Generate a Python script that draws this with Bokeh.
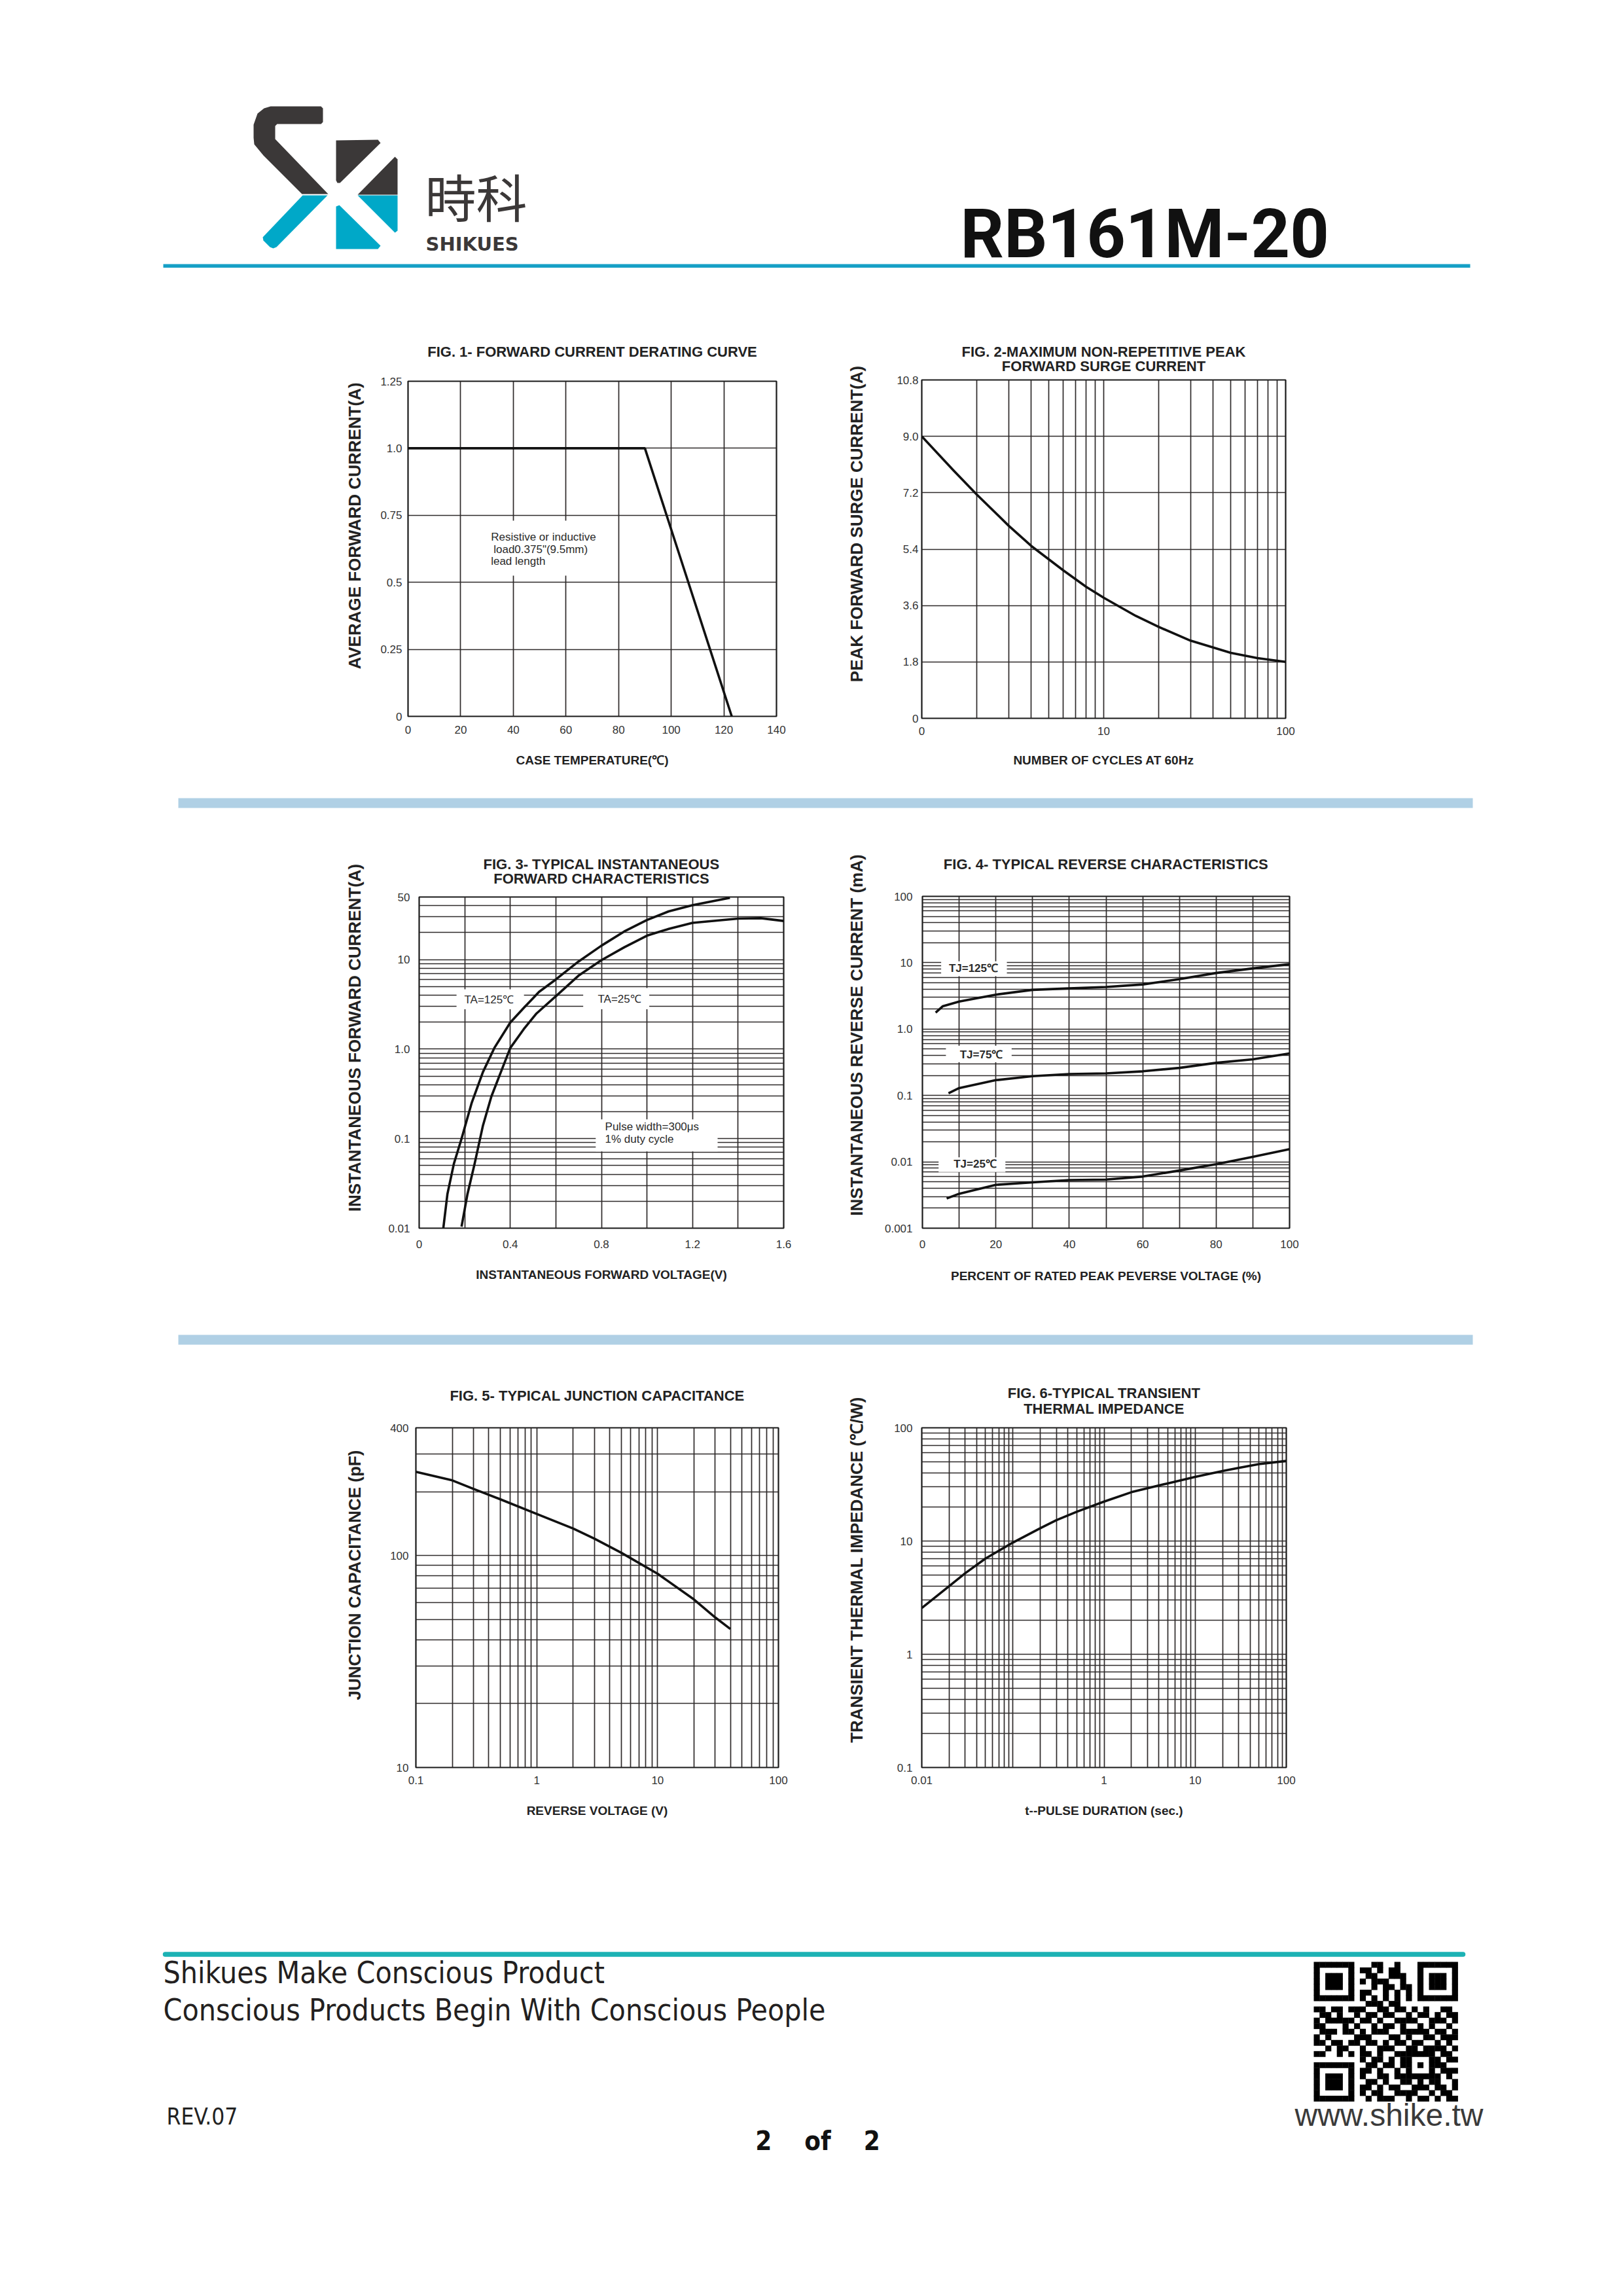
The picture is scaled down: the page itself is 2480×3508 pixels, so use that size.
import math
from bokeh.plotting import figure
from bokeh.layouts import column, row
from bokeh.models import Range1d, FixedTicker
from bokeh.core.properties import value
from bokeh.embed import file_html
from bokeh.resources import INLINE

# ================= data =================
# Fig. 1 forward current derating
f1_temp = [0, 90, 123]
f1_current = [1.0, 1.0, 0.0]
f1_xticks = [0, 20, 40, 60, 80, 100, 120, 140]
f1_xlabels = ["0", "20", "40", "60", "80", "100", "120", "140"]
f1_yticks = [0, 0.25, 0.5, 0.75, 1.0, 1.25]
f1_ylabels = ["0", "0.25", "0.5", "0.75", "1.0", "1.25"]

# Fig. 2 surge current
f2_cycles = [1, 1.5, 2, 3, 4, 6, 8, 10, 15, 20, 30, 50, 70, 100]
f2_current = [9.0, 7.9, 7.15, 6.15, 5.5, 4.72, 4.2, 3.85, 3.27, 2.92, 2.48, 2.09, 1.92, 1.8]
f2_xticks = [1, 10, 100]
f2_xlabels = ["0", "10", "100"]
f2_yticks = [0, 1.8, 3.6, 5.4, 7.2, 9.0, 10.8]
f2_ylabels = ["0", "1.8", "3.6", "5.4", "7.2", "9.0", "10.8"]

# Fig. 3 forward characteristics
f3_volt_125 = [0.106, 0.124, 0.152, 0.186, 0.231, 0.28, 0.33, 0.4, 0.459, 0.526, 0.6, 0.699, 0.8,
               0.9, 1.0, 1.095, 1.2, 1.364]
f3_curr_125 = [0.01, 0.024, 0.052, 0.1, 0.253, 0.555, 1.03, 1.98, 2.88, 4.35, 6.0, 9.5, 14.3,
               20.6, 27.7, 34.5, 40.5, 49.0]
f3_volt_25 = [0.186, 0.212, 0.243, 0.28, 0.317, 0.4, 0.459, 0.515, 0.6, 0.699, 0.8, 0.9, 1.0,
              1.095, 1.2, 1.4, 1.5, 1.6]
f3_curr_25 = [0.0104, 0.024, 0.052, 0.14, 0.296, 1.03, 1.67, 2.5, 3.9, 6.6, 9.86, 13.7, 18.5,
              22.0, 25.7, 28.7, 29.0, 27.0]
f3_xticks = [0, 0.4, 0.8, 1.2, 1.6]
f3_xlabels = ["0", "0.4", "0.8", "1.2", "1.6"]
f3_xminor = [0.2, 0.6, 1.0, 1.4]
f3_yticks = [0.01, 0.1, 1.0, 10, 50]
f3_ylabels = ["0.01", "0.1", "1.0", "10", "50"]

# Fig. 4 reverse characteristics
f4_pct_125 = [3.6, 5.5, 10, 20, 30, 40, 50, 60, 70, 80, 90, 100]
f4_ir_125 = [1.77, 2.2, 2.6, 3.3, 3.9, 4.1, 4.3, 4.7, 5.65, 7.0, 8.2, 9.5]
f4_pct_75 = [7.1, 10, 20, 30, 40, 50, 60, 70, 80, 90, 100]
f4_ir_75 = [0.108, 0.129, 0.17, 0.195, 0.21, 0.215, 0.231, 0.26, 0.31, 0.35, 0.43]
f4_pct_25 = [6.6, 10, 20, 30, 40, 50, 60, 70, 80, 90, 100]
f4_ir_25 = [0.0028, 0.0033, 0.0045, 0.0049, 0.0053, 0.0054, 0.006, 0.0074, 0.0092, 0.0119, 0.0155]
f4_xticks = [0, 20, 40, 60, 80, 100]
f4_xlabels = ["0", "20", "40", "60", "80", "100"]
f4_xminor = [10, 30, 50, 70, 90]
f4_yticks = [0.001, 0.01, 0.1, 1.0, 10, 100]
f4_ylabels = ["0.001", "0.01", "0.1", "1.0", "10", "100"]

# Fig. 5 junction capacitance
f5_volt = [0.1, 0.2, 0.3, 0.5, 1, 2, 3, 5, 10, 20, 30, 40]
f5_cap = [248, 226, 206, 184, 157, 134, 120, 103, 82, 62, 51, 45]
f5_xticks = [0.1, 1, 10, 100]
f5_xlabels = ["0.1", "1", "10", "100"]
f5_yticks = [10, 100, 400]
f5_ylabels = ["10", "100", "400"]

# Fig. 6 transient thermal impedance
f6_time = [0.01, 0.02, 0.03, 0.05, 0.1, 0.2, 0.3, 0.5, 1, 2, 5, 10, 20, 30, 50, 100]
f6_imp = [2.56, 4.0, 5.2, 7.0, 9.7, 13.0, 15.3, 18.1, 22.3, 27.0, 32.3, 36.8, 41.6, 44.2, 47.8, 51.0]
f6_xticks = [0.01, 1, 10, 100]
f6_xlabels = ["0.01", "1", "10", "100"]
f6_yticks = [0.1, 1, 10, 100]
f6_ylabels = ["0.1", "1", "10", "100"]

# ================= styling helpers =================
FONT = "Liberation Sans"
GRID = "#2e2a2a"
INK = "#222222"
CURVE = "#111111"
PAGE_W = 2480
# horizontal page split: [y-label strip | left chart | y-label strip | right chart]
XL0, XL1, XR0, XR1 = 0, 560, 1250, 1330


def log_minors(lo_exp, hi_exp, limit=None):
    out = []
    for e in range(lo_exp, hi_exp + 1):
        for m in range(2, 10):
            v = m * 10.0 ** e
            if limit is None or v < limit:
                out.append(v)
    return out


def chart(x0, x1, y0, y1, fl, ft, fw, fh, xr, yr, x_type, y_type,
          xt, xl, xm, yt, yl, ym, xlabel, y_lab_sd, x_lab_sd, x_axis_sd):
    width, height = x1 - x0, y1 - y0
    left, top = fl - x0, ft - y0
    p = figure(width=width, height=height,
               x_range=Range1d(*xr), y_range=Range1d(*yr),
               x_axis_type=x_type, y_axis_type=y_type, title=None,
               toolbar_location=None, output_backend="svg",
               min_border_left=left, min_border_top=top,
               min_border_right=width - left - fw,
               min_border_bottom=height - top - fh)
    p.xaxis.ticker = FixedTicker(ticks=xt, minor_ticks=xm)
    p.yaxis.ticker = FixedTicker(ticks=yt, minor_ticks=ym)
    p.xaxis.major_label_overrides = dict(zip(xt, xl))
    p.yaxis.major_label_overrides = dict(zip(yt, yl))
    p.axis.major_tick_line_color = None
    p.axis.minor_tick_line_color = None
    p.axis.major_tick_out = 0
    p.axis.major_tick_in = 0
    p.axis.axis_line_color = None
    p.axis.major_label_text_font = FONT
    p.axis.major_label_text_font_size = "17px"
    p.axis.major_label_text_color = "#333333"
    p.xaxis.axis_label = xlabel
    p.xaxis.axis_label_text_font = FONT
    p.xaxis.axis_label_text_font_style = "bold"
    p.xaxis.axis_label_text_color = INK
    p.xaxis.axis_label_text_font_size = "19px"
    p.xaxis.major_label_standoff = x_lab_sd
    p.xaxis.axis_label_standoff = x_axis_sd
    p.yaxis.major_label_standoff = y_lab_sd
    for g in (p.xgrid, p.ygrid):
        g.grid_line_color = GRID
        g.grid_line_width = 1.7
        g.minor_grid_line_color = GRID
        g.minor_grid_line_width = 1.7
    p.outline_line_color = "#1a1a1a"
    p.outline_line_width = 2.2
    return p


def note(p, x, y, texts, bold=False):
    p.text(x=x, y=y, text=texts, text_font=value(FONT), text_font_size="17px",
           text_font_style="bold" if bold else "normal",
           text_baseline="middle", text_align="left", text_color="#2a2a2a")


def band(x0, x1, y0, y1):
    p = figure(width=x1 - x0, height=y1 - y0, x_range=Range1d(x0, x1),
               y_range=Range1d(y1, y0), x_axis_type=None, y_axis_type=None,
               toolbar_location=None, output_backend="svg", min_border=0, title=None)
    p.outline_line_color = None
    return p


def title_band(x0, x1, fl, fw, y0, y1, xs, ys, texts):
    # same side borders as the chart below it, so both frames line up
    p = figure(width=x1 - x0, height=y1 - y0, x_range=Range1d(fl, fl + fw),
               y_range=Range1d(y1, y0), x_axis_type=None, y_axis_type=None,
               toolbar_location=None, output_backend="svg", title=None,
               min_border_left=fl - x0, min_border_right=x1 - fl - fw,
               min_border_top=0, min_border_bottom=0)
    p.outline_line_color = None
    p.text(x=xs, y=ys, text=texts, text_font=value(FONT), text_font_size="22px",
           text_font_style="bold", text_align="center", text_baseline="middle", text_color=INK)
    return p


def ylabel_strip(x0, x1, y0, y1, xc, yc, text):
    p = band(x0, x1, y0, y1)
    p.text(x=[xc], y=[yc], text=[text], angle=math.pi / 2, text_font=value(FONT),
           text_font_size="26px", text_font_style="bold", text_align="center",
           text_baseline="middle", text_color=INK)
    return p

# ================= page header =================
hdr = band(0, PAGE_W, 0, 430)
DARK = "#3b3838"
BLUE = "#00a8c8"
logo_xs = [
    [413, 490, 493, 493, 490, 423, 420, 420, 501, 461, 402, 388, 387, 387, 393, 403],
    [462, 500, 422, 417, 412, 402, 401],
    [513, 577, 581, 519, 515, 513],
    [603, 607, 607, 546],
    [546, 607, 607, 603],
    [513, 518, 581, 577, 513],
]
logo_ys = [
    [162, 162, 165, 186, 189, 189, 192, 212, 296, 296, 237, 220, 210, 190, 173, 165],
    [298, 298, 377, 379, 377, 367, 362],
    [214, 213, 218, 279, 279, 275],
    [239, 243, 297, 297],
    [298, 298, 352, 355],
    [315, 313, 375, 380, 380],
]
hdr.patches(xs=logo_xs, ys=logo_ys, fill_color=[DARK, BLUE, DARK, DARK, BLUE, BLUE], line_color=None)
hdr.text(x=[649], y=[298], text=["時科"], text_font=value("Noto Sans CJK SC"),
         text_font_size="78px", text_baseline="middle", text_color=DARK)
hdr.text(x=[650], y=[372], text=["SHIKUES"], text_font=value("DejaVu Sans"),
         text_font_style="bold", text_font_size="29px", text_baseline="middle", text_color=DARK)
hdr.text(x=[1467], y=[357], text=["RB161M-20"], text_font=value("Roboto"),
         text_font_style="bold", text_font_size="104px", text_baseline="middle", text_color="#111111")
hdr.quad(left=[249], right=[2246], top=[403], bottom=[408.5], fill_color="#16a0c6", line_color=None)

# ================= row 1 =================
R1A, R1B, R1C = 430, 571, 1200
t1L = title_band(XL1, XR0, 623, 563, R1A, R1B, [904.5], [537],
                 ["FIG. 1- FORWARD CURRENT DERATING CURVE"])
t1R = title_band(XR1, PAGE_W, 1408, 556, R1A, R1B, [1686, 1686], [537, 559],
                 ["FIG. 2-MAXIMUM NON-REPETITIVE PEAK", "FORWARD SURGE CURRENT"])

c1 = chart(XL1, XR0, R1B, R1C, 623, 582, 563, 512, (0, 140), (0, 1.25), "linear", "linear",
           f1_xticks, f1_xlabels, [], f1_yticks, f1_ylabels, [],
           "CASE TEMPERATURE(℃)", 9, 14, 27)
c1.quad(left=[30], right=[74], bottom=[0.525], top=[0.73], fill_color="white", line_color=None)
note(c1, [31.5, 32.5, 31.5], [0.669, 0.623, 0.579],
     ["Resistive or inductive", "load0.375\"(9.5mm)", "lead length"])
c1.line(f1_temp, f1_current, line_width=3.6, line_color=CURVE)

c2 = chart(XR1, PAGE_W, R1B, R1C, 1408, 580, 556, 517, (1, 100), (0, 10.8), "log", "linear",
           f2_xticks, f2_xlabels, log_minors(0, 1), f2_yticks, f2_ylabels, [],
           "NUMBER OF CYCLES AT 60Hz", 5, 9, 25)
c2.line(f2_cycles, f2_current, line_width=3.6, line_color=CURVE, line_join="round")

y1L = ylabel_strip(XL0, XL1, R1A, R1C, 541, 803, "AVERAGE FORWARD CURRENT(A)")
y1R = ylabel_strip(XR0, XR1, R1A, R1C, 1308, 800, "PEAK FORWARD SURGE CURRENT(A)")

sep1 = band(0, PAGE_W, 1200, 1250)
sep1.quad(left=[272], right=[2250], top=[1219], bottom=[1234], fill_color="#b0d0e5", line_color=None)

# ================= row 2 =================
R2A, R2B, R2C = 1250, 1357, 2020
t2L = title_band(XL1, XR0, 640, 557, R2A, R2B, [918.5, 918.5], [1320, 1342],
                 ["FIG. 3- TYPICAL INSTANTANEOUS", "FORWARD CHARACTERISTICS"])
t2R = title_band(XR1, PAGE_W, 1409, 561, R2A, R2B, [1689.5], [1320],
                 ["FIG. 4- TYPICAL REVERSE CHARACTERISTICS"])

c3 = chart(XL1, XR0, R2B, R2C, 640, 1370, 557, 506, (0, 1.6), (0.01, 50), "linear", "log",
           f3_xticks, f3_xlabels, f3_xminor, f3_yticks, f3_ylabels, log_minors(-2, 1, 50),
           "INSTANTANEOUS FORWARD VOLTAGE(V)", 10, 14, 27)
c3.quad(left=[0.164, 0.72, 0.775], right=[0.46, 1.01, 1.31],
        bottom=[2.79, 2.79, 0.072], top=[4.65, 4.82, 0.164], fill_color="white", line_color=None)
note(c3, [0.198, 0.784, 0.816, 0.816], [3.54, 3.6, 0.137, 0.0984],
     ["TA=125℃", "TA=25℃", "Pulse width=300μs", "1% duty cycle"])
c3.line(f3_volt_125, f3_curr_125, line_width=3.6, line_color=CURVE, line_join="round")
c3.line(f3_volt_25, f3_curr_25, line_width=3.6, line_color=CURVE, line_join="round")

c4 = chart(XR1, PAGE_W, R2B, R2C, 1409, 1369, 561, 507, (0, 100), (0.001, 100), "linear", "log",
           f4_xticks, f4_xlabels, f4_xminor, f4_yticks, f4_ylabels, log_minors(-3, 1),
           "PERCENT OF RATED PEAK PEVERSE VOLTAGE (%)", 11, 14, 29)
c4.quad(left=[5.1, 6.4, 4.4], right=[23, 24.3, 22.6],
        bottom=[6.25, 0.316, 0.0070], top=[10.5, 0.562, 0.01165], fill_color="white", line_color=None)
note(c4, [7.2, 10.2, 8.5], [8.2, 0.41, 0.0093], ["TJ=125℃", "TJ=75℃", "TJ=25℃"], bold=True)
c4.line(f4_pct_125, f4_ir_125, line_width=3.6, line_color=CURVE, line_join="round")
c4.line(f4_pct_75, f4_ir_75, line_width=3.6, line_color=CURVE, line_join="round")
c4.line(f4_pct_25, f4_ir_25, line_width=3.6, line_color=CURVE, line_join="round")

y2L = ylabel_strip(XL0, XL1, R2A, R2C, 541, 1585, "INSTANTANEOUS FORWARD CURRENT(A)")
y2R = ylabel_strip(XR0, XR1, R2A, R2C, 1308, 1581, "INSTANTANEOUS REVERSE CURRENT (mA)")

sep2 = band(0, PAGE_W, 2020, 2070)
sep2.quad(left=[272], right=[2250], top=[2039], bottom=[2054], fill_color="#b0d0e5", line_color=None)

# ================= row 3 =================
R3A, R3B, R3C = 2070, 2167, 2850
t3L = title_band(XL1, XR0, 635, 554, R3A, R3B, [912], [2132],
                 ["FIG. 5- TYPICAL JUNCTION CAPACITANCE"])
t3R = title_band(XR1, PAGE_W, 1408, 557, R3A, R3B, [1686.5, 1686.5], [2128, 2152],
                 ["FIG. 6-TYPICAL TRANSIENT", "THERMAL IMPEDANCE"])

c5 = chart(XL1, XR0, R3B, R3C, 635, 2181, 554, 519, (0.1, 100), (10, 400), "log", "log",
           f5_xticks, f5_xlabels, log_minors(-1, 1), f5_yticks, f5_ylabels, log_minors(1, 2, 400),
           "REVERSE VOLTAGE (V)", 7, 9, 27)
c5.line(f5_volt, f5_cap, line_width=3.6, line_color=CURVE, line_join="round")

c6 = chart(XR1, PAGE_W, R3B, R3C, 1408, 2181, 557, 519, (0.01, 100), (0.1, 100), "log", "log",
           f6_xticks, f6_xlabels, log_minors(-2, 1) + [0.1], f6_yticks, f6_ylabels, log_minors(-1, 1),
           "t--PULSE DURATION (sec.)", 10, 9, 27)
c6.line(f6_time, f6_imp, line_width=3.6, line_color=CURVE, line_join="round")

y3L = ylabel_strip(XL0, XL1, R3A, R3C, 541, 2406, "JUNCTION CAPACITANCE (pF)")
y3R = ylabel_strip(XR0, XR1, R3A, R3C, 1308, 2398, "TRANSIENT THERMAL IMPEDANCE (℃/W)")

# ================= footer =================
ftr = band(0, PAGE_W, 2850, 3500)
ftr.segment(x0=[252], y0=[2985.5], x1=[2235], y1=[2985.5], line_width=7.5,
            line_color="#1cb2b4", line_cap="round")
ftr.text(x=[249, 249], y=[3013, 3070],
         text=["Shikues Make Conscious Product", "Conscious Products Begin With Conscious People"],
         text_font=value("DejaVu Sans Condensed"), text_font_size="46px",
         text_baseline="middle", text_color="#231f20")
ftr.text(x=[254], y=[3233], text=["REV.07"], text_font=value("DejaVu Sans Condensed"),
         text_font_size="35px", text_baseline="middle", text_color="#222222")
NB = "\u00a0"
ftr.text(x=[1249], y=[3270], text=["2" + NB * 4 + "of" + NB * 4 + "2"],
         text_font=value("DejaVu Sans Condensed"), text_font_style="bold", text_font_size="40px",
         text_align="center", text_baseline="middle", text_color="#111111")
ftr.text(x=[2122], y=[3231], text=["www.shike.tw"], text_font=value("Liberation Sans"),
         text_font_size="48px", text_align="center", text_baseline="middle", text_color="#3a3a3a")

qr_rows = [
    "1111111" + "0" + "001100100" + "0" + "1111111",
    "1000001" + "0" + "110101100" + "0" + "1000001",
    "1011101" + "0" + "011001110" + "0" + "1011101",
    "1011101" + "0" + "101110010" + "0" + "1011101",
    "1011101" + "0" + "001011011" + "0" + "1011101",
    "1000001" + "0" + "110010101" + "0" + "1000001",
    "1111111" + "0" + "101010101" + "0" + "1111111",
    "00000000" + "011101100" + "00000000",
    "1101101" + "1" + "100110110" + "1" + "0100110",
    "0110100" + "1" + "011011001" + "0" + "1101011",
    "1011111" + "0" + "110100111" + "1" + "0011101",
    "1100010" + "1" + "001011010" + "0" + "1010010",
    "0111011" + "0" + "101110011" + "1" + "1101101",
    "1010000" + "1" + "110001101" + "0" + "0110111",
    "1101101" + "1" + "011010110" + "1" + "1001010",
    "0010110" + "0" + "100111001" + "1" + "0111101",
    "1100101" + "0" + "11010011" + "11111" + "0110",
    "0000000" + "0" + "10110101" + "10001" + "1011",
    "1111111" + "0" + "01101101" + "10101" + "1100",
    "1000001" + "0" + "11010010" + "10001" + "0111",
    "1011101" + "0" + "10011011" + "11111" + "1010",
    "1011101" + "0" + "01101001" + "101011001",
    "1011101" + "0" + "11010110" + "011101101",
    "1000001" + "0" + "10110011" + "110010110",
    "1111111" + "0" + "01011100" + "101101011",
]
QX0, QY0, QMW, QMH = 2007.0, 2997.0, 8.8, 8.52
ql, qr, qt, qb = [], [], [], []
for r, rowbits in enumerate(qr_rows):
    bits = (rowbits + "0" * 25)[:25]
    for c, ch in enumerate(bits):
        if ch == "1":
            ql.append(QX0 + c * QMW)
            qr.append(QX0 + (c + 1) * QMW + 0.4)
            qt.append(QY0 + r * QMH)
            qb.append(QY0 + (r + 1) * QMH + 0.4)
ftr.quad(left=ql, right=qr, top=qt, bottom=qb, fill_color="#000000", line_color=None)

layout = column(
    hdr,
    row(y1L, column(t1L, c1), y1R, column(t1R, c2)),
    sep1,
    row(y2L, column(t2L, c3), y2R, column(t2R, c4)),
    sep2,
    row(y3L, column(t3L, c5), y3R, column(t3R, c6)),
    ftr,
)
open("out.html", "w").write(file_html(layout, INLINE))
